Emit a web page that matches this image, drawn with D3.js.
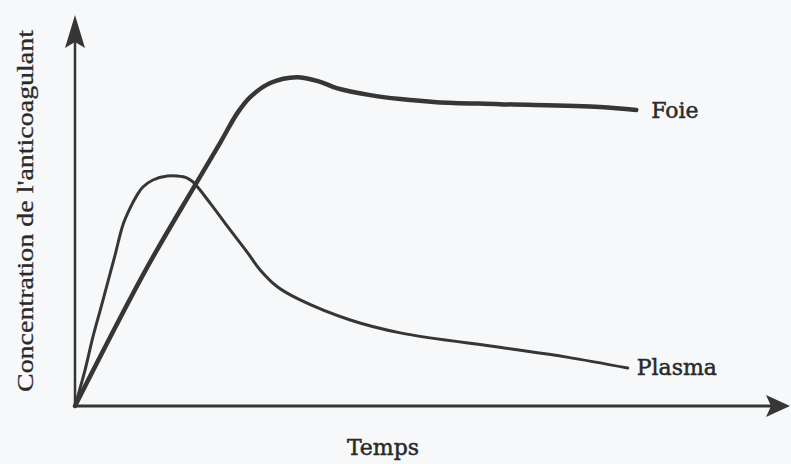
<!DOCTYPE html>
<html><head><meta charset="utf-8">
<script src="https://cdn.jsdelivr.net/npm/d3@7"></script>
<style>html,body{margin:0;padding:0;background:#f7f8f9;}svg{display:block;}</style>
</head><body>
<script>
// Time (0-100, arbitrary units) and concentration (0-100, arbitrary units)
const foieT = [0, 9.8, 16.8, 20.3, 22.7, 24.5, 27.3, 31.0, 34.3, 36.6, 41.3, 45.5, 50.6, 59.4, 73.4, 78.5];
const foieC = [0, 34.5, 56.5, 67.3, 74.9, 79.0, 82.6, 84.1, 82.9, 81.3, 79.5, 78.5, 77.7, 77.2, 76.5, 75.7];
const plasmaT = [0, 1.4, 2.5, 3.8, 5.6, 6.7, 7.7, 8.7, 9.5, 10.9, 12.9, 14.3, 15.7, 16.5, 18.9, 21.3, 24.1, 25.9, 28.3, 31.2, 38.5, 45.5, 59.4, 68.8, 77.3];
const plasmaC = [0, 9.2, 17.6, 26.3, 38.6, 46.3, 50.6, 54.0, 56.0, 57.8, 58.8, 58.8, 58.3, 57.3, 51.9, 46.0, 39.3, 34.8, 30.5, 27.4, 22.0, 18.7, 15.0, 12.5, 9.7];
const seriesNames = ["Foie", "Plasma"];
const xTitle = "Temps";
const yTitle = "Concentration de l'anticoagulant";

const W = 791, H = 464;
const svg = d3.select("body").append("svg").attr("width", W).attr("height", H);
svg.append("rect").attr("width", W).attr("height", H).attr("fill", "#f7f8f9");

const x = d3.scaleLinear().domain([0, 100]).range([75, 790]);
const y = d3.scaleLinear().domain([0, 100]).range([406, 15]);
const ink = "#363636";

// axes with arrows
const x0 = x(0), y0 = y(0), xEnd = x(100), yEnd = y(100);
svg.append("line").attr("x1", x0).attr("y1", y0).attr("x2", xEnd - 16).attr("y2", y0)
  .attr("stroke", ink).attr("stroke-width", 3);
svg.append("line").attr("x1", x0).attr("y1", y0 + 1).attr("x2", x0).attr("y2", yEnd + 20)
  .attr("stroke", ink).attr("stroke-width", 2.5);
svg.append("path")
  .attr("d", `M${x0},${yEnd} L${x0 - 10},${yEnd + 33} L${x0},${yEnd + 27} L${x0 + 10},${yEnd + 33} Z`)
  .attr("fill", ink);
svg.append("path")
  .attr("d", `M${xEnd},${y0} L${xEnd - 24},${y0 - 11} L${xEnd - 19},${y0} L${xEnd - 24},${y0 + 11} Z`)
  .attr("fill", ink);

const line = d3.line().x(d => x(d[0])).y(d => y(d[1])).curve(d3.curveCatmullRom.alpha(0.5));
const foie = foieT.map((t, i) => [t, foieC[i]]);
const plasma = plasmaT.map((t, i) => [t, plasmaC[i]]);

svg.append("path").datum(plasma).attr("d", line).attr("fill", "none")
  .attr("stroke", ink).attr("stroke-width", 3).attr("stroke-linecap", "round");
svg.append("path").datum(foie).attr("d", line).attr("fill", "none")
  .attr("stroke", ink).attr("stroke-width", 4.5).attr("stroke-linecap", "round");

const font = "'DejaVu Serif', serif";
const txt = "#2a2a2a";
function label(sel) {
  return sel.attr("font-family", font).attr("font-size", 22).attr("fill", txt)
    .attr("stroke", txt).attr("stroke-width", 0.5);
}
const lf = foie[foie.length - 1], lp = plasma[plasma.length - 1];
label(svg.append("text").attr("x", x(lf[0]) + 15).attr("y", y(lf[1]) + 8)).text(seriesNames[0]);
label(svg.append("text").attr("x", x(lp[0]) + 9).attr("y", y(lp[1]) + 7)).text(seriesNames[1]);
label(svg.append("text").attr("x", 383).attr("y", 455).attr("text-anchor", "middle")).text(xTitle);

svg.append("text").attr("transform", "translate(33,211) rotate(-90)")
  .attr("text-anchor", "middle")
  .attr("font-family", "'Liberation Serif', 'Times New Roman', Times, serif").attr("font-size", 24)
  .attr("fill", txt).attr("stroke", txt).attr("stroke-width", 0.3)
  .attr("textLength", 362).attr("lengthAdjust", "spacingAndGlyphs")
  .text(yTitle);
</script>
</body></html>
